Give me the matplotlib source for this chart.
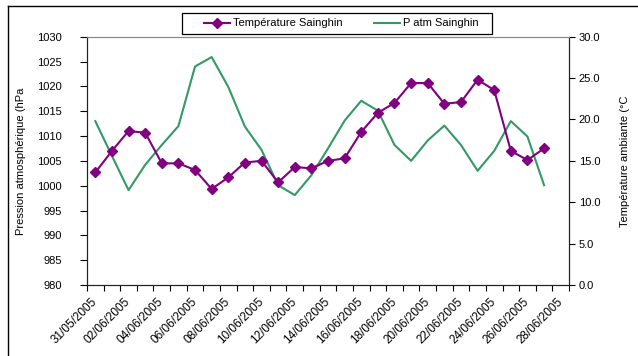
import matplotlib
matplotlib.use("Agg")
import matplotlib.pyplot as plt
from matplotlib.lines import Line2D
from matplotlib.patches import Rectangle
import numpy as np

plt.rcParams['font.family'] = ['Liberation Sans', 'DejaVu Sans']

# Daily readings, 31/05/2005 onwards
temperature = [13.6, 16.2, 18.6, 18.4, 14.7, 14.7, 13.9, 11.6, 13.0, 14.8,
               15.0, 12.4, 14.25, 14.1, 15.0, 15.3, 18.5, 20.8, 22.0, 24.4,
               24.4, 21.9, 22.1, 24.8, 23.55, 16.2, 15.1, 16.5]
pressure = [1013.0, 1006.0, 999.1, 1004.2, 1008.2, 1012.0, 1024.0, 1025.9,
            1019.9, 1011.9, 1007.2, 1000.1, 998.1, 1002.1, 1007.5, 1013.1,
            1017.1, 1015.1, 1008.2, 1005.0, 1009.1, 1012.1, 1008.2, 1003.0,
            1007.0, 1013.0, 1009.9, 1000.1]
n_categories = 29
date_labels = ["31/05/2005", "02/06/2005", "04/06/2005", "06/06/2005",
               "08/06/2005", "10/06/2005", "12/06/2005", "14/06/2005",
               "16/06/2005", "18/06/2005", "20/06/2005", "22/06/2005",
               "24/06/2005", "26/06/2005", "28/06/2005"]
pressure_ticks = list(range(980, 1031, 5))
temperature_ticks = [0, 5, 10, 15, 20, 25, 30]

W, H = 638, 356
fig = plt.figure(figsize=(W / 100, H / 100), dpi=100)

# chart-area border (left and top edges)
fig.add_artist(Line2D([7.5 / W, 7.5 / W], [0, 1 - 5.5 / H], color='black', lw=1.0,
                      transform=fig.transFigure))
fig.add_artist(Line2D([7.5 / W, 1], [1 - 5.5 / H, 1 - 5.5 / H], color='black', lw=1.0,
                      transform=fig.transFigure))

left, right = 87 / W, 569 / W
bottom, top = 1 - 285 / H, 1 - 36.7 / H
ax = fig.add_axes([left, bottom, right - left, top - bottom])
ax2 = ax.twinx()

x = np.arange(len(pressure))
green = '#339966'
purple = '#800080'

l_p, = ax.plot(x, pressure, color=green, lw=1.5, label='P atm Sainghin', zorder=2)
l_t, = ax2.plot(np.arange(len(temperature)), temperature, color=purple, lw=1.5,
                marker='D', markersize=5.5, markeredgecolor=purple,
                label='Température Sainghin', zorder=3)

ax.set_xlim(-0.5, n_categories - 0.5)
ax.set_ylim(980, 1030)
ax2.set_ylim(0, 30)

ax.set_yticks(pressure_ticks)
ax.set_yticklabels([str(v) for v in pressure_ticks])
ax2.set_yticks(temperature_ticks)
ax2.set_yticklabels([f"{v:.1f}" for v in temperature_ticks])

ax.set_xticks(np.arange(0, n_categories, 2))
ax.set_xticklabels(date_labels, rotation=45, ha='right', va='center',
                   rotation_mode='anchor', fontsize=8.5)
ax.set_xticks(np.arange(-0.5, n_categories, 1), minor=True)
ax.tick_params(axis='x', which='major', length=0, pad=11)
ax.tick_params(axis='x', which='minor', length=4, direction='out', width=0.8)
ax.tick_params(axis='y', length=5, width=0.8, direction='out', pad=13, labelsize=8)
ax2.tick_params(axis='y', length=4, width=0.8, direction='out', pad=3, labelsize=8)

for a in (ax, ax2):
    a.spines['top'].set_color('#888888')
    a.spines['top'].set_linewidth(0.8)
    a.spines['left'].set_color('#222222')
    a.spines['right'].set_color('#222222')
    a.spines['bottom'].set_color('#222222')
    a.patch.set_visible(False)

ax.set_ylabel('Pression atmosphérique (hPa', fontsize=8)
ax.yaxis.set_label_coords((26 - 87) / 482, 0.5)
ax2.set_ylabel('Température ambiante (°C', fontsize=8)
ax2.yaxis.set_label_coords((620 - 87) / 482, 0.5)

# legend box and entries
fig.add_artist(Rectangle((182 / W, 1 - 34 / H), 310 / W, 21 / H,
                         transform=fig.transFigure, facecolor='white',
                         edgecolor='black', lw=0.9, zorder=5))
leg = fig.legend(handles=[l_t, l_p], loc='center left', ncol=2,
                 bbox_to_anchor=(198 / W, 1 - 23.5 / H), fontsize=8,
                 frameon=False, handlelength=2.4, borderpad=0,
                 handletextpad=0.25, columnspacing=2.8)
leg.set_zorder(6)

fig.savefig('out.png', dpi=100)
